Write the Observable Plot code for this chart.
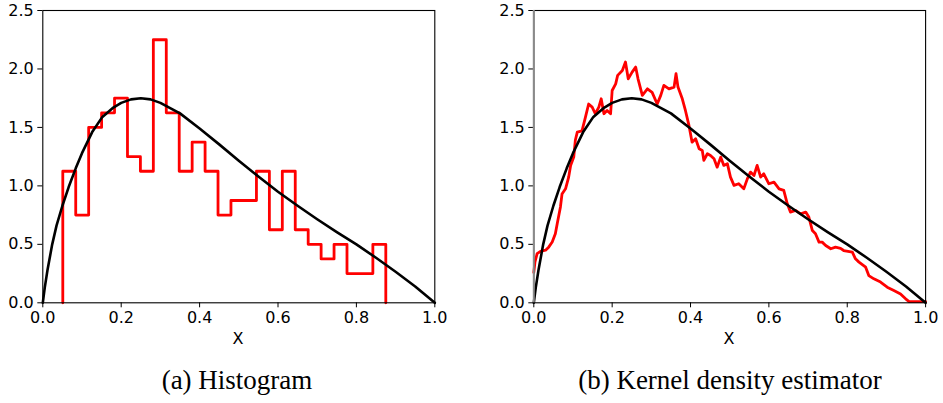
<!DOCTYPE html>
<html>
<head>
<meta charset="utf-8">
<script src="https://cdn.jsdelivr.net/npm/d3@7"></script>
<script src="https://cdn.jsdelivr.net/npm/@observablehq/plot@0.6"></script>
<style>
  html, body { margin: 0; padding: 0; background: #fff; }
  #wrap { position: relative; width: 943px; height: 403px; background: #fff; overflow: hidden; }
  .panel { position: absolute; top: 0; }
  .xlab { position: absolute; font-family: "DejaVu Sans", sans-serif; font-size: 16px; line-height: 16px; width: 100px; text-align: center; color: #000; }
  .cap { position: absolute; font-family: "Liberation Serif", "Times New Roman", serif; font-size: 27px; line-height: 27px; width: 420px; text-align: center; color: #000; white-space: nowrap; }
</style>
</head>
<body>
<div id="wrap">
  <div id="left" class="panel" style="left:0px"></div>
  <div id="right" class="panel" style="left:470px"></div>
  <div class="xlab" style="left:188px; top:331px">X</div>
  <div class="xlab" style="left:679px; top:331px">X</div>
  <div class="cap" style="left:27px; top:367px">(a) Histogram</div>
  <div class="cap" style="left:520px; top:367px">(b) Kernel density estimator</div>
</div>
<script>
// ---- tick labels ----
const xTicks = [0, 0.2, 0.4, 0.6, 0.8, 1.0];
const yTicks = [0, 0.5, 1.0, 1.5, 2.0, 2.5];

// ---- histogram (panel a) ----
const binEdges = [0.051, 0.084, 0.117, 0.150, 0.183, 0.216, 0.249, 0.282, 0.315, 0.348,
                  0.381, 0.414, 0.447, 0.480, 0.512, 0.545, 0.578, 0.611, 0.644, 0.677,
                  0.710, 0.743, 0.776, 0.809, 0.842, 0.875];
const binHeights = [1.125, 0.75, 1.5, 1.625, 1.75, 1.25, 1.125, 2.25, 1.625, 1.125,
                    1.375, 1.125, 0.75, 0.875, 0.875, 1.125, 0.625, 1.125, 0.625, 0.5,
                    0.375, 0.5, 0.25, 0.25, 0.5];

// ---- true density curve (black, both panels) ----
const curveX = [0, 0.005, 0.012, 0.024, 0.035, 0.05, 0.066, 0.084, 0.1, 0.126, 0.152, 0.18, 0.2,
                0.225, 0.25, 0.275, 0.3, 0.35, 0.4, 0.45, 0.5, 0.55, 0.6, 0.65, 0.7, 0.75, 0.8,
                0.85, 0.9, 0.95, 1.0];
const curveY = [0, 0.13, 0.28, 0.5, 0.66, 0.83, 0.99, 1.15, 1.28, 1.46, 1.59, 1.67, 1.71,
                1.74, 1.75, 1.74, 1.71, 1.62, 1.49, 1.355, 1.215, 1.08, 0.95, 0.83, 0.715, 0.605, 0.5,
                0.385, 0.265, 0.14, 0];

// ---- kernel density estimate (red, panel b) ----
const kdeX = [0, 0.003, 0.0085, 0.017, 0.03, 0.038, 0.047, 0.055, 0.06, 0.068, 0.072, 0.081, 0.089,
              0.094, 0.102, 0.106, 0.111, 0.123, 0.132, 0.14, 0.149, 0.157, 0.166, 0.172, 0.179,
              0.187, 0.196, 0.2, 0.209, 0.214, 0.226, 0.234, 0.241, 0.251, 0.26, 0.266, 0.277,
              0.29, 0.302, 0.315, 0.324, 0.332, 0.345, 0.358, 0.363, 0.368, 0.379, 0.387, 0.396,
              0.404, 0.413, 0.422, 0.43, 0.434, 0.443, 0.451, 0.46, 0.468, 0.477, 0.485, 0.494,
              0.502, 0.511, 0.523, 0.536, 0.545, 0.553, 0.562, 0.57, 0.579, 0.587, 0.6, 0.613,
              0.626, 0.638, 0.647, 0.655, 0.668, 0.681, 0.694, 0.702, 0.711, 0.719, 0.728, 0.736,
              0.745, 0.758, 0.77, 0.783, 0.791, 0.813, 0.821, 0.83, 0.847, 0.855, 0.868, 0.885,
              0.902, 0.919, 0.936, 0.949, 0.958, 1.0];
const kdeY = [0.26, 0.35, 0.42, 0.44, 0.45, 0.476, 0.52, 0.59, 0.68, 0.82, 0.93, 0.975, 1.075,
              1.175, 1.246, 1.39, 1.46, 1.47, 1.59, 1.70, 1.674, 1.617, 1.674, 1.745, 1.617,
              1.645, 1.617, 1.816, 1.873, 1.945, 1.987, 2.06, 1.916, 1.973, 2.016, 1.916, 1.774,
              1.83, 1.80, 1.70, 1.774, 1.86, 1.83, 1.845, 1.96, 1.845, 1.745, 1.645, 1.517,
              1.374, 1.403, 1.317, 1.303, 1.218, 1.275, 1.26, 1.232, 1.16, 1.246, 1.175, 1.19,
              1.075, 1.004, 1.018, 0.975, 1.06, 1.118, 1.089, 1.175, 1.075, 1.103, 1.018, 1.032,
              0.975, 0.961, 0.847, 0.776, 0.79, 0.761, 0.776, 0.733, 0.618, 0.59, 0.519, 0.519,
              0.49, 0.462, 0.476, 0.465, 0.447, 0.433, 0.376, 0.348, 0.305, 0.233, 0.205, 0.177,
              0.134, 0.105, 0.076, 0.034, 0.01, 0.01];

// build tables for the library
const histSteps = [{x: binEdges[0], y: 0}]
  .concat(binHeights.map((h, i) => ({x: binEdges[i], y: h})))
  .concat([{x: binEdges[binEdges.length - 1], y: binHeights[binHeights.length - 1]},
           {x: binEdges[binEdges.length - 1], y: 0}]);
const curve = curveX.map((x, i) => ({x, y: curveY[i]}));
const kde = kdeX.map((x, i) => ({x, y: kdeY[i]}));

function panel(width, marginLeft, marginRight, extraMarks, greyLeft) {
  return Plot.plot({
    width, height: 330,
    marginLeft, marginRight, marginTop: 10, marginBottom: 27.7,
    style: {fontFamily: "DejaVu Sans, sans-serif", fontSize: "16px", color: "#000", background: "#fff", overflow: "visible"},
    x: {domain: [0, 1], label: null},
    y: {domain: [0, 2.5], label: null},
    marks: [
      Plot.axisX({ticks: xTicks, tickFormat: d3.format(".1f"), tickSize: 5, tickPadding: 4, label: null, fontSize: 16}),
      Plot.axisY({ticks: yTicks, tickFormat: d3.format(".1f"), tickSize: 5, tickPadding: 4, label: null, fontSize: 16}),
      ...extraMarks,
      Plot.line(curve, {x: "x", y: "y", stroke: "#000", strokeWidth: 2.6}),
      Plot.frame({stroke: "#000", strokeWidth: 1.1}),
      ...(greyLeft ? [Plot.ruleX([0], {stroke: "#8a8a8a", strokeWidth: 2})] : [])
    ]
  });
}

document.getElementById("left").appendChild(
  panel(470, 42.3, 35.7, [Plot.line(histSteps, {x: "x", y: "y", curve: "step-after", stroke: "#ff0000", strokeWidth: 2.8})], false)
);
document.getElementById("right").appendChild(
  panel(473, 63.3, 17.9, [Plot.line(kde, {x: "x", y: "y", stroke: "#ff0000", strokeWidth: 2.8})], true)
);
</script>
</body>
</html>
